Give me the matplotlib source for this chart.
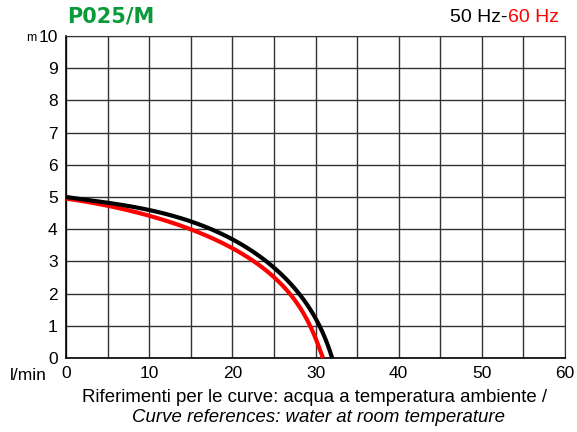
import matplotlib
matplotlib.use("Agg")
import matplotlib.pyplot as plt
import numpy as np

plt.rcParams['font.family'] = ['Liberation Sans', 'DejaVu Sans']

flow_50 = [0, 5, 10, 15, 20, 24.1, 25, 28.3, 30.4, 31.3, 32.0]
head_50 = [5.0, 4.82, 4.6, 4.23, 3.72, 3.0, 2.73, 2.0, 1.0, 0.5, 0.0]
flow_60 = [0, 5, 10, 15, 20, 22.9, 25, 27.1, 29.3, 30.2, 30.9]
head_60 = [4.95, 4.72, 4.44, 3.97, 3.41, 3.0, 2.42, 2.0, 1.0, 0.5, 0.0]

x_ticks = [0, 10, 20, 30, 40, 50, 60]
y_ticks = [0, 1, 2, 3, 4, 5, 6, 7, 8, 9, 10]

fig = plt.figure(figsize=(5.77, 4.32), dpi=100)
ax = fig.add_axes([66/577, 1-358/432, (565-66)/577, (358-36)/432])


def curve(xs, ys, deg=5):
    xs = np.asarray(xs, float); ys = np.asarray(ys, float)
    d = np.r_[0, np.cumsum(np.hypot(np.diff(xs) / 60, np.diff(ys) / 10))]
    d = d / d[-1]
    w = np.ones_like(d); w[0] = w[-1] = 20
    px = np.polyfit(d, xs, deg, w=w)
    py = np.polyfit(d, ys, deg, w=w)
    tt = np.linspace(0, 1, 400)
    return np.polyval(px, tt), np.polyval(py, tt)


xb, yb = curve(flow_50, head_50)
xr, yr = curve(flow_60, head_60)
ax.plot(xr, yr, color='#ff0000', lw=3, solid_capstyle='butt', zorder=3, clip_on=False)
ax.plot(xb, yb, color='black', lw=3, solid_capstyle='butt', zorder=4, clip_on=False)

ax.set_xlim(0, 60)
ax.set_ylim(0, 10)
grid_x = np.arange(0, 61, 5)
ax.set_xticks(grid_x)
ax.set_xticklabels([str(v) if v in x_ticks else '' for v in grid_x])
ax.set_yticks(y_ticks)
ax.set_yticklabels([str(v) for v in y_ticks])
ax.grid(True, color='#333333', lw=1)
ax.tick_params(length=0, labelsize=12.5, pad=6)
for s in ['top', 'right']:
    ax.spines[s].set_color('#333333')
for s in ['left', 'bottom']:
    ax.spines[s].set_color('black')
    ax.spines[s].set_linewidth(1.2)

fig.text(67/577, 1-17/432, 'P025/M', color='#0a9a3a', fontsize=15, fontweight='bold',
         family='DejaVu Sans', va='center', ha='left')
fig.text(450/577, 1-17/432, '50 Hz-', color='black', fontsize=14, va='center', ha='left')
fig.text(508/577, 1-17/432, '60 Hz', color='#ff0000', fontsize=14, va='center', ha='left')
fig.text(26/577, 1-38/432, 'm', fontsize=9, va='center', ha='left')
fig.text(10/577, 1-375/432, 'l/min', fontsize=12.5, va='center', ha='left')
fig.text(315/577, 1-397/432, 'Riferimenti per le curve: acqua a temperatura ambiente /',
         fontsize=13.4, va='center', ha='center')
fig.text(318/577, 1-418/432, 'Curve references: water at room temperature',
         fontsize=13.4, va='center', ha='center', style='italic')

fig.savefig('out.png', dpi=100)
